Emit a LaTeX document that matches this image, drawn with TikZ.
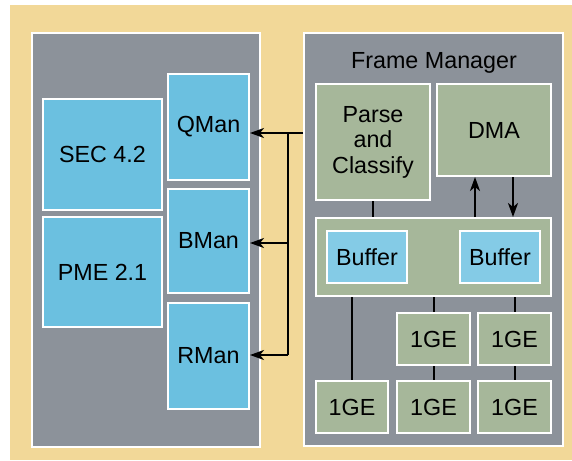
\documentclass[tikz,border=0pt]{standalone}
\usepackage{fontspec}
\setmainfont{Liberation Sans}
\usetikzlibrary{arrows.meta}
\definecolor{tanbg}{HTML}{F2D898}
\definecolor{panelgray}{HTML}{8C929A}
\definecolor{manblue}{HTML}{6BC0E0}
\definecolor{bufblue}{HTML}{84CBE6}
\definecolor{fmgreen}{HTML}{A6B79A}

\begin{document}
\begin{tikzpicture}[x=1pt, y=-1pt,
		box/.style={draw=white, line width=2pt, inner sep=0pt, align=center, font=\fontsize{23.3}{25.5}\selectfont},
		panel/.style={box, fill=panelgray},
		blue box/.style={box, fill=manblue},
		buf box/.style={box, fill=bufblue, minimum width=80pt, minimum height=52pt},
		green box/.style={box, fill=fmgreen},
		ge box/.style={green box, minimum width=73pt, minimum height=52pt},
		wire/.style={line width=2pt},
		>={Stealth[length=14pt, width=10pt, inset=4pt]}]
		\useasboundingbox (0, 0) rectangle (572, 460);
		\fill [tanbg] (10, 5) rectangle (572, 460);
		% left side
		\draw (146, 240) node [panel, minimum width=228pt, minimum height=414pt] (soc) {};
		\draw (102.5, 154.5) node [blue box, minimum width=119pt, minimum height=111pt] (sec) {SEC 4.2};
		\draw (102.5, 272) node [blue box, minimum width=119pt, minimum height=110pt] (pme) {PME 2.1};
		\draw (208.5, 127) node [blue box, minimum width=81pt, minimum height=106pt] (qman) {QMan};
		\draw (208.5, 241) node [blue box, minimum width=81pt, minimum height=104pt] (bman) {BMan};
		\draw (208.5, 356) node [blue box, minimum width=81pt, minimum height=106pt] (rman) {RMan};
		% frame manager
		\draw (433.5, 239.5) node [panel, minimum width=259pt, minimum height=413pt] (fm) {};
		\draw (434, 68) node [box, draw=none, anchor=base] (fmtitle) {Frame Manager};
		\draw (373, 142) node [green box, minimum width=114pt, minimum height=116pt] (parse) {Parse\\and\\Classify};
		\draw (494, 130) node [green box, minimum width=114pt, minimum height=92pt] (dma) {DMA};
		\draw (433.5, 257) node [green box, minimum width=235pt, minimum height=78pt] (bufs) {};
		\draw (367, 257) node [buf box] (buf1) {Buffer};
		\draw (500, 257) node [buf box] (buf2) {Buffer};
		\draw (433.5, 339) node [ge box] (ge1) {1GE};
		\draw (514.5, 339) node [ge box] (ge2) {1GE};
		\draw (352, 407) node [ge box, minimum width=72pt] (ge3) {1GE};
		\draw (433.5, 407) node [ge box] (ge4) {1GE};
		\draw (514.5, 407) node [ge box] (ge5) {1GE};
		% connectors
		\coordinate (j1) at (288, 133);
		\coordinate (j2) at (288, 243);
		\coordinate (j3) at (288, 355);
		\draw [wire, ->] (fm.west |- j1) -- (qman.east |- j1);
		\draw [wire] (j1) -- (j3);
		\draw [wire, ->] (j2) -- (bman.east |- j2);
		\draw [wire, ->] (j3) -- (rman.east |- j3);
		\draw [wire] (parse.south) -- (parse.south |- bufs.north);
		\coordinate (up) at (475, 0);
		\coordinate (down) at (513, 0);
		\draw [wire, ->] (up |- bufs.north) -- (up |- dma.south);
		\draw [wire, ->] (down |- dma.south) -- (down |- bufs.north);
		\draw [wire] (ge3.north |- bufs.south) -- (ge3.north);
		\draw [wire] (ge1.north |- bufs.south) -- (ge1.north);
		\draw [wire] (ge2.north |- bufs.south) -- (ge2.north);
		\draw [wire] (ge1.south) -- (ge4.north);
		\draw [wire] (ge2.south) -- (ge5.north);
	\end{tikzpicture}
\end{document}
